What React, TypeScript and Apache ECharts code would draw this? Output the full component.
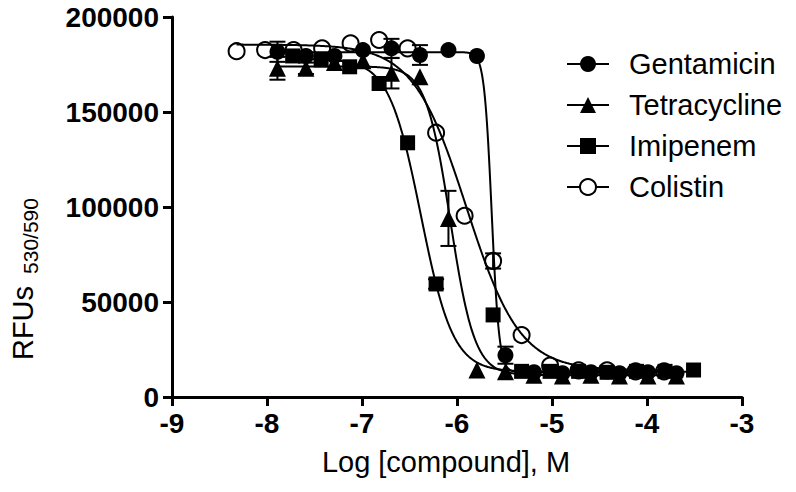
import React, { useEffect, useRef } from "react";
import * as echarts from "echarts";

// ---------- data ----------
const compounds = ["Gentamicin", "Tetracycline", "Imipenem", "Colistin"];

const gentamicinLogConc = [-7.89, -7.59, -7.29, -6.99, -6.69, -6.39, -6.09, -5.79, -5.49, -5.19, -4.89, -4.59, -4.29, -3.99, -3.69];
const gentamicinRFU = [181700, 179500, 179500, 182600, 183500, 180000, 182600, 179500, 22000, 13000, 12500, 13000, 12500, 13000, 12500];
const gentamicinErr = [5300, 0, 0, 0, 5000, 5200, 0, 0, 4500, 0, 0, 0, 0, 0, 0];

const tetracyclineLogConc = [-7.89, -7.59, -7.29, -6.99, -6.69, -6.39, -6.09, -5.79, -5.49, -5.19, -4.89, -4.59, -4.29, -3.99, -3.69];
const tetracyclineRFU = [173000, 173000, 176000, 177000, 170400, 168500, 94000, 14200, 13300, 11500, 11000, 11500, 11000, 11000, 11000];
const tetracyclineErr = [6000, 3000, 0, 0, 8000, 0, 14500, 0, 0, 0, 0, 0, 0, 0, 0];

const imipenemLogConc = [-7.73, -7.43, -7.13, -6.82, -6.52, -6.22, -5.62, -5.32, -5.02, -4.72, -4.42, -4.11, -3.81, -3.51];
const imipenemRFU = [179500, 177400, 173800, 165000, 133800, 59500, 43200, 13500, 13500, 13500, 13000, 13500, 13500, 14200];
const imipenemErr = [0, 0, 0, 0, 0, 2500, 0, 0, 0, 0, 0, 0, 0, 0];

const colistinLogConc = [-8.32, -8.02, -7.72, -7.42, -7.12, -6.82, -6.52, -6.22, -5.92, -5.62, -5.32, -5.02, -4.72, -4.42, -4.12, -3.82];
const colistinRFU = [182000, 182600, 182600, 183500, 186100, 187900, 183500, 139100, 95400, 71600, 32600, 16500, 14000, 14000, 13500, 13500];
const colistinErr = [0, 0, 0, 0, 0, 0, 0, 0, 0, 4000, 0, 0, 0, 0, 0, 0];

// four-parameter logistic fits
const fitTop = [181500, 174000, 178000, 185500];
const fitBottom = [13000, 11500, 13300, 14000];
const fitLogEC50 = [-5.635, -6.07, -6.38, -5.9];
const fitHill = [11, 3.4, 2.57, 1.55];
const fitFrom = [-7.89, -7.89, -7.73, -8.32];
const fitTo = [-3.69, -3.69, -3.51, -3.82];

const xTicks = [-9, -8, -7, -6, -5, -4, -3];
const yTicks = [0, 50000, 100000, 150000, 200000];

// ---------- chart ----------
const FONT = "'Liberation Sans', Arial, Helvetica, sans-serif";

const allX = [gentamicinLogConc, tetracyclineLogConc, imipenemLogConc, colistinLogConc];
const allY = [gentamicinRFU, tetracyclineRFU, imipenemRFU, colistinRFU];
const allE = [gentamicinErr, tetracyclineErr, imipenemErr, colistinErr];

const markerSymbols = ["circle", "triangle", "rect", "circle"];
const markerSizes = [16, 17, 15, 16];

function buildOption() {
  const series: any[] = [];

  // fitted curves
  compounds.forEach((name, i) => {
    series.push({
      type: "custom",
      name: name + " fit",
      coordinateSystem: "cartesian2d",
      z: 1,
      silent: true,
      data: [[fitFrom[i], fitTop[i]]],
      renderItem: (_params: any, api: any) => {
        const pts: number[][] = [];
        const steps = 600;
        for (let k = 0; k <= steps; k++) {
          const x = fitFrom[i] + ((fitTo[i] - fitFrom[i]) * k) / steps;
          const y = fitBottom[i] + (fitTop[i] - fitBottom[i]) / (1 + Math.pow(10, (x - fitLogEC50[i]) * fitHill[i]));
          pts.push(api.coord([x, y]));
        }
        return {
          type: "polyline",
          shape: { points: pts },
          style: { stroke: "#000", lineWidth: 2, fill: null },
        };
      },
    });
  });

  // error bars
  compounds.forEach((name, i) => {
    const d: number[][] = [];
    allX[i].forEach((x, j) => {
      if (allE[i][j] > 0) d.push([x, allY[i][j], allE[i][j]]);
    });
    series.push({
      type: "custom",
      name: name + " error",
      coordinateSystem: "cartesian2d",
      z: 2,
      silent: true,
      data: d,
      renderItem: (_params: any, api: any) => {
        const x = api.value(0);
        const y = api.value(1);
        const e = api.value(2);
        const top = api.coord([x, y + e]);
        const bot = api.coord([x, y - e]);
        const half = 8;
        const st = { stroke: "#000", lineWidth: 2 };
        return {
          type: "group",
          children: [
            { type: "line", shape: { x1: top[0], y1: top[1], x2: bot[0], y2: bot[1] }, style: st },
            { type: "line", shape: { x1: top[0] - half, y1: top[1], x2: top[0] + half, y2: top[1] }, style: st },
            { type: "line", shape: { x1: bot[0] - half, y1: bot[1], x2: bot[0] + half, y2: bot[1] }, style: st },
          ],
        };
      },
    });
  });

  // data markers
  compounds.forEach((name, i) => {
    const open = i === 3;
    series.push({
      type: "scatter",
      name: name + " data",
      z: 3,
      symbol: markerSymbols[i],
      symbolSize: markerSizes[i],
      data: allX[i].map((x, j) => [x, allY[i][j]]),
      itemStyle: open
        ? { color: "rgba(0,0,0,0)", borderColor: "#000", borderWidth: 2, opacity: 1 }
        : { color: "#000", opacity: 1 },
      emphasis: { disabled: true },
    });
  });

  // legend carriers (line + symbol icons)
  compounds.forEach((name, i) => {
    series.push({
      type: "line",
      name,
      data: [],
      symbol: i === 3 ? "emptyCircle" : markerSymbols[i],
      symbolSize: 16,
      lineStyle: { color: "#000", width: 2 },
      itemStyle: { color: "#000", borderColor: "#000" },
    });
  });

  const axisCommon = {
    axisLine: { show: true, onZero: false, lineStyle: { color: "#000", width: 3 } },
    axisTick: { show: true, length: 9, lineStyle: { color: "#000", width: 3 } },
    splitLine: { show: false },
  };

  return {
    animation: false,
    backgroundColor: "#fff",
    textStyle: { fontFamily: FONT },
    grid: { left: 172, right: 54, top: 17, bottom: 95, containLabel: false },
    legend: {
      data: compounds,
      orient: "vertical",
      left: 561,
      top: 44,
      itemWidth: 42,
      itemHeight: 20,
      itemGap: 11,
      selectedMode: false,
      textStyle: { fontSize: 29, color: "#000", fontFamily: FONT, padding: [0, 0, 0, 15], lineHeight: 30 },
    },
    xAxis: {
      type: "value",
      min: xTicks[0],
      max: xTicks[xTicks.length - 1],
      interval: 1,
      ...axisCommon,
      axisLabel: {
        fontSize: 28,
        fontWeight: "bold",
        color: "#000",
        margin: 12,
        fontFamily: FONT,
        formatter: (v: number) => String(v),
      },
      name: "Log [compound], M",
      nameLocation: "middle",
      nameGap: 50,
      nameTextStyle: { fontSize: 29, color: "#000", fontFamily: FONT, padding: [0, 22, 0, 0] },
    },
    yAxis: {
      type: "value",
      min: yTicks[0],
      max: yTicks[yTicks.length - 1],
      interval: 50000,
      ...axisCommon,
      axisLabel: {
        fontSize: 28,
        fontWeight: "bold",
        color: "#000",
        margin: 13,
        fontFamily: FONT,
        formatter: (v: number) => String(v),
      },
    },
    graphic: [
      {
        type: "text",
        x: 23,
        y: 323,
        rotation: Math.PI / 2,
        style: { text: "RFUs", fontSize: 29, fill: "#000", fontFamily: FONT, align: "center", verticalAlign: "middle" },
      },
      {
        type: "text",
        x: 30,
        y: 236,
        rotation: Math.PI / 2,
        style: { text: "530/590", fontSize: 21, fill: "#000", fontFamily: FONT, align: "center", verticalAlign: "middle" },
      },
    ],
    series,
  };
}

export default function App() {
  const ref = useRef<HTMLDivElement>(null);
  useEffect(() => {
    if (!ref.current) return;
    const chart = echarts.init(ref.current, undefined, { renderer: "svg" });
    chart.setOption(buildOption() as any);
    return () => chart.dispose();
  }, []);
  return (
    <div
      ref={ref}
      style={{ position: "fixed", left: 0, top: 0, width: 796, height: 492, background: "#fff" }}
    />
  );
}
